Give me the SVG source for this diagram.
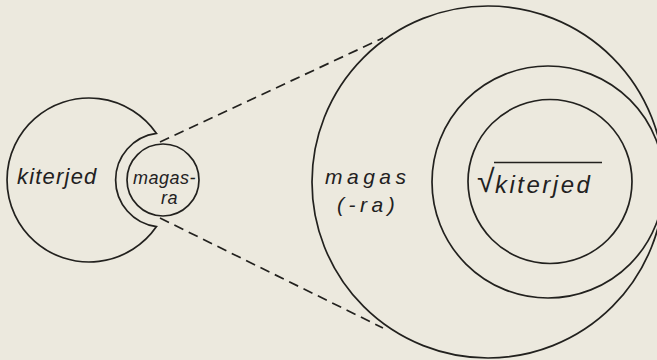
<svg xmlns="http://www.w3.org/2000/svg" width="657" height="360" viewBox="0 0 657 360">
<style>
.ln{fill:none;stroke:#22211e;stroke-width:1.7}
.dash{fill:none;stroke:#22211e;stroke-width:1.7;stroke-dasharray:10 6}
.t{font-family:"Liberation Sans",Arial,sans-serif;font-style:italic;fill:#22211e}
</style>
<rect width="657" height="360" fill="#ece9de"/>
<g id="connectors">
<line class="dash" x1="160" y1="142" x2="383" y2="38"/>
<line class="dash" x1="160" y1="218" x2="383" y2="328"/>
</g>
<g id="kiterjed">
<path class="ln" d="M156.5,133.4 A82,82 0 1 0 156.5,226.6 A47,47 0 0 1 156.5,133.4 Z"/>
<text class="t" x="17" y="184" font-size="22" letter-spacing="1.2">kiterjed</text>
</g>
<g id="magasra">
<circle class="ln" cx="163" cy="180" r="36" stroke-width="2"/>
<text class="t" x="133" y="184" font-size="18" letter-spacing="0.5">magas-</text>
<text class="t" x="161" y="204" font-size="18" letter-spacing="0.5">ra</text>
</g>
<g id="magas">
<circle class="ln" cx="488" cy="182" r="176"/>
<text class="t" x="325" y="184" font-size="21" letter-spacing="4.5">magas</text>
<text class="t" x="337" y="212" font-size="21" letter-spacing="4.5">(-ra)</text>
</g>
<g id="middle">
<circle class="ln" cx="548" cy="182" r="116"/>
</g>
<g id="gyok">
<circle class="ln" cx="550" cy="181.5" r="82" stroke-width="1.9"/>
<text x="477" y="192" font-size="32" font-family="Liberation Sans,sans-serif" fill="#22211e">√</text>
<line class="ln" x1="494" y1="162.5" x2="602" y2="162.5"/>
<text class="t" x="495" y="193" font-size="24" letter-spacing="2.5">kiterjed</text>
</g>
</svg>
